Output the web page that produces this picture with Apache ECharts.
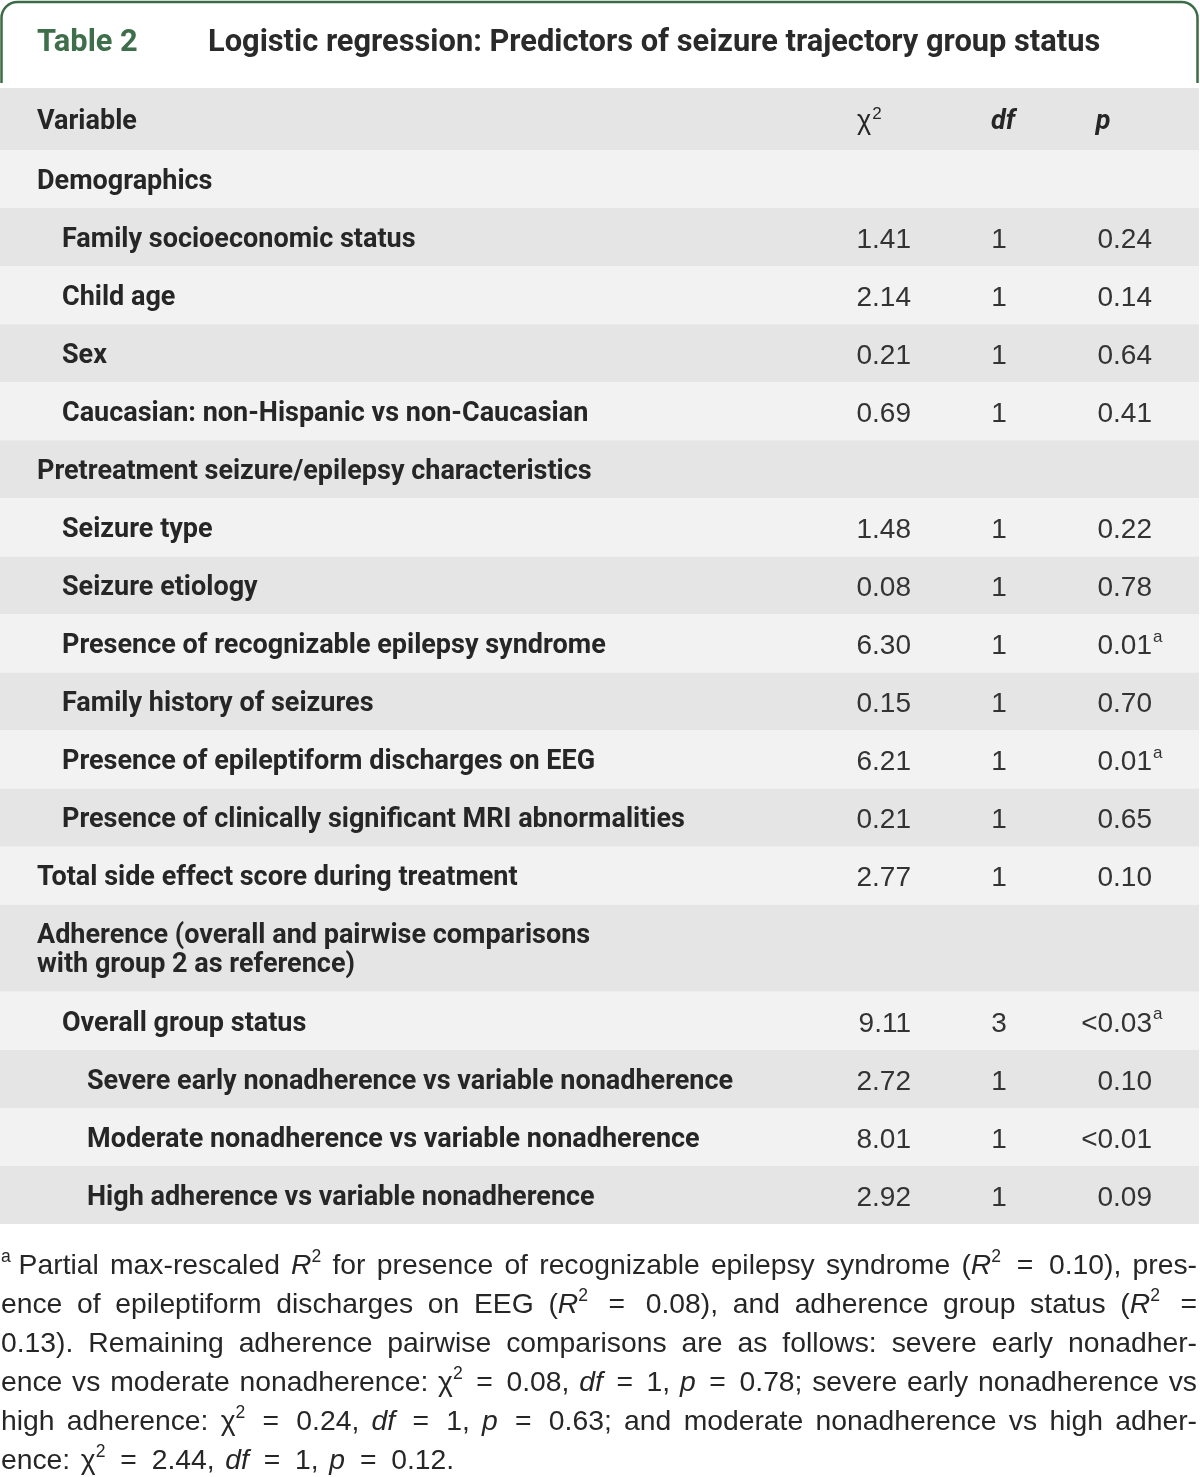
<!DOCTYPE html>
<html><head><meta charset="utf-8">
<script src="https://cdn.jsdelivr.net/npm/echarts@6/dist/echarts.min.js"></script>
<style>html,body{margin:0;padding:0;background:#fff}#c{width:1200px;height:1477px}</style>
</head><body><div id="c"></div>
<script>
// ---------------- DATA ----------------
const tableNumber = 'Table 2';
const tableTitle = 'Logistic regression: Predictors of seizure trajectory group status';
const columnHeaders = ['Variable', 'χ', 'df', 'p'];
const variables = [
  'Demographics',
  'Family socioeconomic status',
  'Child age',
  'Sex',
  'Caucasian: non-Hispanic vs non-Caucasian',
  'Pretreatment seizure/epilepsy characteristics',
  'Seizure type',
  'Seizure etiology',
  'Presence of recognizable epilepsy syndrome',
  'Family history of seizures',
  'Presence of epileptiform discharges on EEG',
  'Presence of clinically significant MRI abnormalities',
  'Total side effect score during treatment',
  'Adherence (overall and pairwise comparisons\nwith group 2 as reference)',
  'Overall group status',
  'Severe early nonadherence vs variable nonadherence',
  'Moderate nonadherence vs variable nonadherence',
  'High adherence vs variable nonadherence'
];
const indentLevels = [0, 1, 1, 1, 1, 0, 1, 1, 1, 1, 1, 1, 0, 0, 1, 2, 2, 2];
const chiSquare = [null, 1.41, 2.14, 0.21, 0.69, null, 1.48, 0.08, 6.30, 0.15, 6.21, 0.21, 2.77, null, 9.11, 2.72, 8.01, 2.92];
const degreesOfFreedom = [null, 1, 1, 1, 1, null, 1, 1, 1, 1, 1, 1, 1, null, 3, 1, 1, 1];
const pValues = ['', '0.24', '0.14', '0.64', '0.41', '', '0.22', '0.78', '0.01', '0.70', '0.01', '0.65', '0.10', '', '<0.03', '0.10', '<0.01', '0.09'];
const pNotes = ['', '', '', '', '', '', '', '', 'a', '', 'a', '', '', '', 'a', '', '', ''];
const footnoteLines = [
  '^a^\u00a0Partial max-rescaled *R*^2^ for presence of recognizable epilepsy syndrome (*R*^2^ = 0.10), pres-',
  'ence of epileptiform discharges on EEG (*R*^2^ = 0.08), and adherence group status (*R*^2^ =',
  '0.13). Remaining adherence pairwise comparisons are as follows: severe early nonadher-',
  'ence vs moderate nonadherence: χ^2^ = 0.08, *df* = 1, *p* = 0.78; severe early nonadherence vs',
  'high adherence: χ^2^ = 0.24, *df* = 1, *p* = 0.63; and moderate nonadherence vs high adher-',
  'ence: χ^2^ = 2.44, *df* = 1, *p* = 0.12.'
];

// ---------------- STYLE / LAYOUT ----------------
const GREEN = '#3c6b47';
const TEXT = '#262626';
const NUM = '#333333';
const BAND_LIGHT = '#f2f2f2';
const BAND_DARK = '#e5e5e5';
const LABEL_FONT_FAMILY = 'Roboto, "Liberation Sans", sans-serif';
const NUM_FONT_FAMILY = '"Liberation Sans", Arial, sans-serif';
const FOOT_FAMILY = '"Liberation Sans", Arial, sans-serif';
const LABEL_FONT = 'bold 27px ' + LABEL_FONT_FAMILY;
const NUM_FONT = '28px ' + NUM_FONT_FAMILY;
const COL = { label0: 37, indent: 25, chiRight: 911, dfCenter: 999, pRight: 1152 };
const TEXT_DY = 3;

const chart = echarts.init(document.getElementById('c'), null, { renderer: 'canvas' });
const measureCtx = document.createElement('canvas').getContext('2d');
function textWidth(t, font) { measureCtx.font = font; return measureCtx.measureText(t).width; }

// row spans derived from number of label lines
const rowSpans = variables.map(v => v.split('\n').length > 1 ? 1.5 : 1);
let acc = 0;
const rowData = variables.map((v, i) => { const s = acc; acc += rowSpans[i]; return [s, acc, i]; });
const totalSpan = acc;

function txt(x, y, text, font, fill, align, extra) {
  return Object.assign({ type: 'text', x: x, y: y,
    style: Object.assign({ text: text, font: font, fill: fill, textAlign: align, align: align,
      textVerticalAlign: 'middle', verticalAlign: 'middle' }, extra || {}) });
}

function renderRow(params, api) {
  const i = api.value(2);
  const y0 = api.coord([0, api.value(0)])[1];
  const y1 = api.coord([0, api.value(1)])[1];
  const cs = params.coordSys;
  const cy = (y0 + y1) / 2 + TEXT_DY;
  const children = [{
    type: 'rect',
    shape: { x: cs.x, y: y0, width: cs.width, height: y1 - y0 },
    style: { fill: i % 2 === 0 ? BAND_LIGHT : BAND_DARK }
  }, txt(cs.x + COL.label0 + COL.indent * indentLevels[i], cy, variables[i], LABEL_FONT, TEXT, 'left', { lineHeight: 29 })];
  if (chiSquare[i] != null) children.push(txt(cs.x + COL.chiRight, cy, chiSquare[i].toFixed(2), NUM_FONT, NUM, 'right'));
  if (degreesOfFreedom[i] != null) children.push(txt(cs.x + COL.dfCenter, cy, String(degreesOfFreedom[i]), NUM_FONT, NUM, 'center'));
  if (pValues[i]) {
    children.push(txt(cs.x + COL.pRight, cy, pValues[i], NUM_FONT, NUM, 'right'));
    if (pNotes[i]) children.push(txt(cs.x + COL.pRight + 1, cy - 9, pNotes[i], '17px ' + NUM_FONT_FAMILY, NUM, 'left'));
  }
  return { type: 'group', children };
}

// ---------------- GRAPHICS: border, header, footnote ----------------
const graphics = [];
graphics.push({ type: 'rect', z: 1, shape: { x: 1.5, y: 2, width: 1196, height: 86, r: [16, 16, 0, 0] },
  style: { fill: 'none', stroke: GREEN, lineWidth: 2.5 } });
graphics.push({ type: 'rect', z: 2, shape: { x: -5, y: 83, width: 1210, height: 10 }, style: { fill: '#fff' } });
graphics.push({ type: 'rect', z: 3, shape: { x: 0, y: 88, width: 1199, height: 62 }, style: { fill: BAND_DARK } });
const HDR_Y = 119 + TEXT_DY;
function hdr(o) { o.z = 4; return o; }
graphics.push(hdr(txt(COL.label0, HDR_Y, columnHeaders[0], LABEL_FONT, TEXT, 'left')));
const chiFont = '27px ' + NUM_FONT_FAMILY;
graphics.push(hdr(txt(857, HDR_Y, columnHeaders[1], chiFont, TEXT, 'left')));
graphics.push(hdr(txt(857 + textWidth(columnHeaders[1], chiFont) + 1, HDR_Y - 8, '2', '17px ' + NUM_FONT_FAMILY, TEXT, 'left')));
graphics.push(hdr(txt(1003, HDR_Y, columnHeaders[2], 'italic bold 27px ' + LABEL_FONT_FAMILY, TEXT, 'center')));
graphics.push(hdr(txt(1103, HDR_Y, columnHeaders[3], 'italic bold 27px ' + LABEL_FONT_FAMILY, TEXT, 'center')));

// footnote, justified
function partFont(kind, size) {
  if (kind === 'i') return 'italic ' + size.toFixed(2) + 'px ' + FOOT_FAMILY;
  if (kind === 's') return (size * 0.62).toFixed(2) + 'px ' + FOOT_FAMILY;
  return size.toFixed(2) + 'px ' + FOOT_FAMILY;
}
function parseWord(w) {
  const parts = [];
  w.replace(/\*([^*]+)\*|\^([^^]+)\^|([^*^]+)/g, (m, a, b, c) => {
    if (a) parts.push({ k: 'i', t: a }); else if (b) parts.push({ k: 's', t: b }); else parts.push({ k: 'n', t: c });
    return m;
  });
  return parts;
}
const FOOT_LEFT = 1, FOOT_W = 1196, FOOT_TOP = 1266, FOOT_LH = 39, EQ_GAP_WEIGHT = 1.4;
const fs = 28.3;
const spaceW = textWidth(' ', partFont('n', fs));
function wordWidth(parts) { return parts.reduce((s, p) => s + textWidth(p.t, partFont(p.k, fs)), 0); }
footnoteLines.forEach((line, li) => {
  const words = line.split(' ');
  const ws = words.map(parseWord);
  const weights = [];
  for (let k = 0; k < words.length - 1; k++) weights.push(words[k] === '=' || words[k + 1] === '=' ? EQ_GAP_WEIGHT : 1);
  const sumWeights = weights.reduce((a, b) => a + b, 0);
  const y = FOOT_TOP + li * FOOT_LH;
  const sumW = ws.reduce((s, w) => s + wordWidth(w), 0);
  const last = li === footnoteLines.length - 1;
  const base = last ? spaceW * 1.35 : Math.max(3, (FOOT_W - sumW) / sumWeights);
  let x = FOOT_LEFT;
  ws.forEach((parts, wi) => {
    parts.forEach(p => {
      const f = partFont(p.k, fs);
      graphics.push(hdr(txt(x, p.k === 's' ? y - fs * 0.3 : y, p.t, f, TEXT, 'left')));
      x += textWidth(p.t, f);
    });
    if (wi < weights.length) x += base * weights[wi];
  });
});

chart.setOption({
  animation: false,
  backgroundColor: '#ffffff',
  title: {
    left: 37, top: 28, padding: 0,
    text: '{a|' + tableNumber + '}{b|' + tableTitle + '}',
    textStyle: {
      rich: {
        a: { fontFamily: LABEL_FONT_FAMILY, fontWeight: 'bold', fontSize: 30.8, color: '#3e6e4a', width: 171 },
        b: { fontFamily: LABEL_FONT_FAMILY, fontWeight: 'bold', fontSize: 30.8, color: '#2a2a2a' }
      }
    }
  },
  grid: { left: 0, right: 1, top: 150, bottom: 253 },
  xAxis: { type: 'value', min: 0, max: 1, show: false },
  yAxis: { type: 'value', min: 0, max: totalSpan, inverse: true, show: false },
  series: [{
    type: 'custom',
    renderItem: renderRow,
    data: rowData,
    encode: { y: [0, 1] },
    clip: false,
    silent: true
  }],
  graphic: { elements: graphics }
});
</script>
</body></html>
